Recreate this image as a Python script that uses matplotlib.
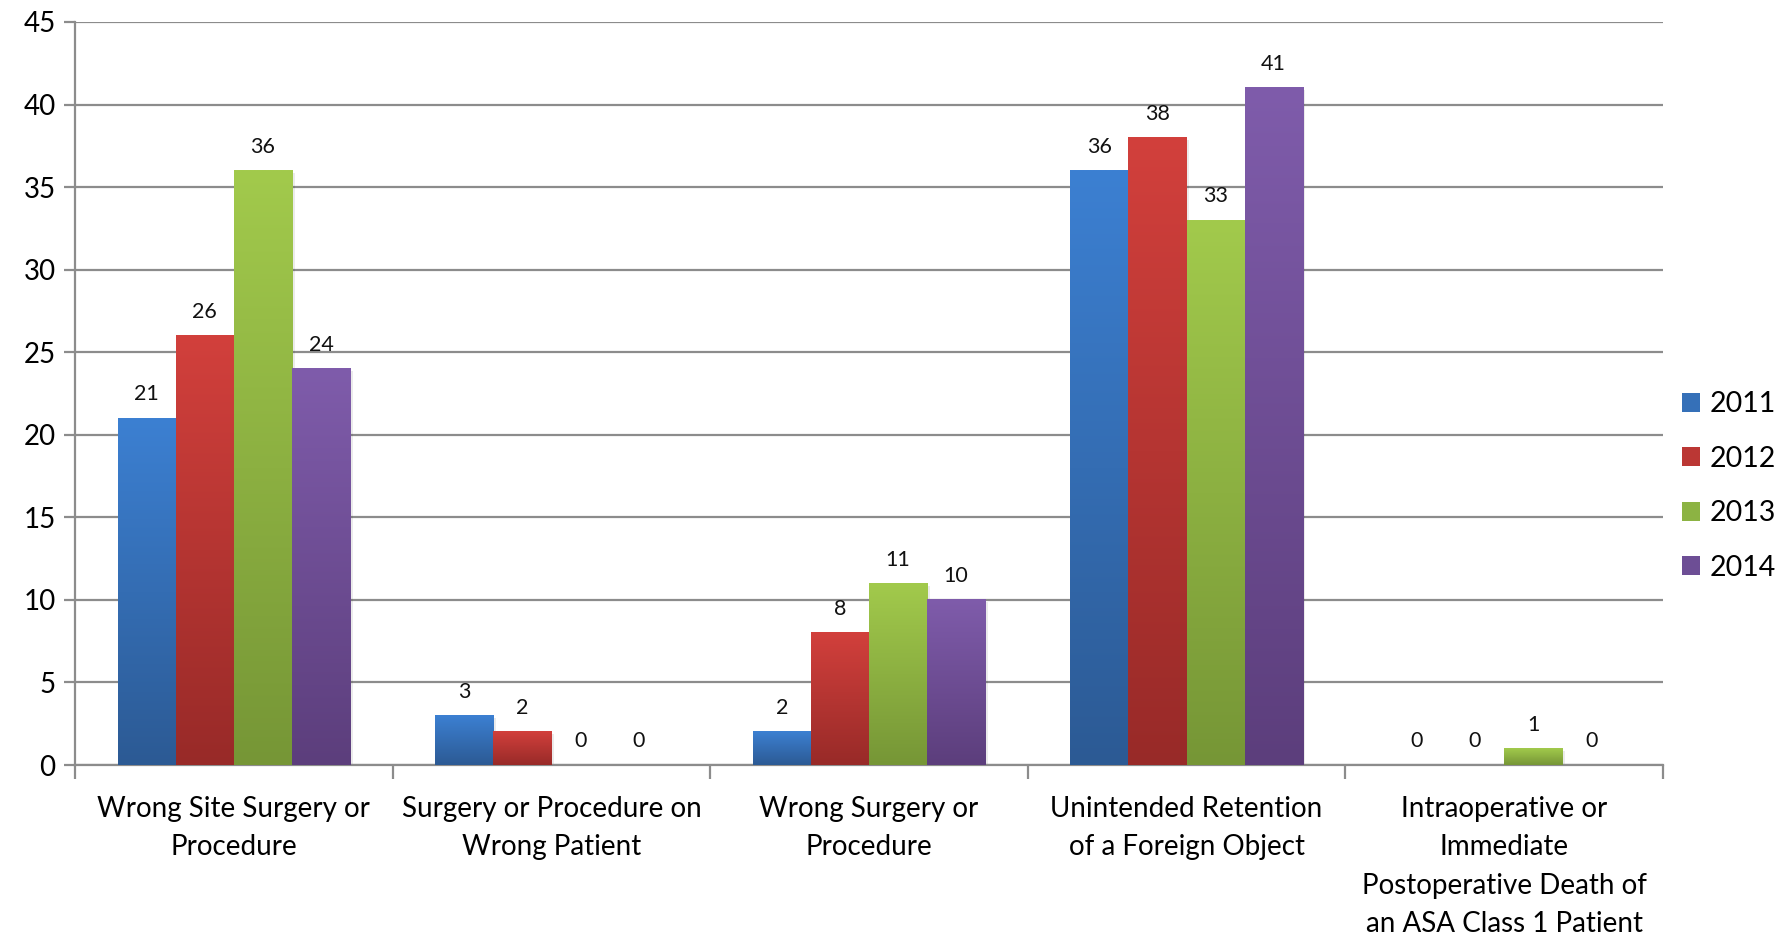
import numpy as np
import matplotlib
matplotlib.use("Agg")
import matplotlib.pyplot as plt
from matplotlib.colors import LinearSegmentedColormap
from matplotlib.patches import Patch

plt.rcParams['font.family'] = ['Lato', 'DejaVu Sans']

categories = [
    "Wrong Site Surgery or\nProcedure",
    "Surgery or Procedure on\nWrong Patient",
    "Wrong Surgery or\nProcedure",
    "Unintended Retention\nof a Foreign Object",
    "Intraoperative or\nImmediate\nPostoperative Death of\nan ASA Class 1 Patient",
]
years = ["2011", "2012", "2013", "2014"]
counts_2011 = [21, 3, 2, 36, 0]
counts_2012 = [26, 2, 8, 38, 0]
counts_2013 = [36, 0, 11, 33, 1]
counts_2014 = [24, 0, 10, 41, 0]
series = [counts_2011, counts_2012, counts_2013, counts_2014]

# (top colour, bottom colour) for each year's vertical gradient
shades = [
    ("#3c80d2", "#2c5a94"),
    ("#d2403c", "#982a28"),
    ("#a2ca4c", "#769636"),
    ("#7f5cab", "#5c3e7c"),
]
mid_colors = ["#3570b8", "#bb3734", "#8cb343", "#6d4e95"]

fig = plt.figure(figsize=(17.88, 9.38), dpi=100)
ax = fig.add_axes([0.042, 0.1844, 0.888, 0.7922])

n_cat = len(categories)
x = np.arange(n_cat)
bar_w = 0.183
offsets = (np.arange(4) - 1.5) * bar_w

for s, vals in enumerate(series):
    top, bottom = shades[s]
    cmap = LinearSegmentedColormap.from_list(f"g{s}", [bottom, top])
    grad = np.linspace(0, 1, 256).reshape(-1, 1)
    for i, v in enumerate(vals):
        x0 = x[i] + offsets[s] - bar_w / 2
        x1 = x0 + bar_w
        if v > 0:
            # soft drop shadow
            ax.bar(x[i] + offsets[s] + 0.008, v, width=bar_w, bottom=-0.15,
                   color="#000000", alpha=0.08, zorder=2, linewidth=0)
            ax.imshow(grad, extent=[x0, x1, 0, v], origin="lower",
                      cmap=cmap, aspect="auto", zorder=3, interpolation="bilinear")
        ax.annotate(f"{v}", xy=(x[i] + offsets[s], v), xytext=(0, 10),
                    textcoords="offset points", ha="center", va="bottom",
                    fontsize=15.5, color="#111111", zorder=5)

ax.set_xlim(-0.5, n_cat - 0.5)
ax.set_ylim(0, 45)

ax.set_yticks(np.arange(0, 46, 5))
ax.yaxis.grid(True, color="#8c8c8c", linewidth=1.6, zorder=0)
ax.set_axisbelow(True)

ax.set_xticks(np.arange(-0.5, n_cat, 1.0))
ax.set_xticklabels([])
ax.set_xticks(x, minor=True)
ax.set_xticklabels(categories, minor=True, fontsize=20, linespacing=1.6)
ax.tick_params(axis="x", which="major", length=10, width=1.6, color="#8c8c8c", direction="out")
ax.tick_params(axis="x", which="minor", length=0, pad=22)
ax.tick_params(axis="y", length=8, width=1.6, color="#8c8c8c", labelsize=20, pad=6)

for side in ("top", "right"):
    ax.spines[side].set_visible(False)
for side in ("left", "bottom"):
    ax.spines[side].set_color("#8c8c8c")
    ax.spines[side].set_linewidth(1.6)

handles = [Patch(facecolor=c, edgecolor="none") for c in mid_colors]
fig.legend(handles, years, loc="center left", bbox_to_anchor=(0.9405, 0.482),
           frameon=False, fontsize=20.5, handlelength=0.65, handleheight=0.65,
           handletextpad=0.35, labelspacing=1.0, borderaxespad=0, borderpad=0)

fig.savefig("out.png", dpi=100)
